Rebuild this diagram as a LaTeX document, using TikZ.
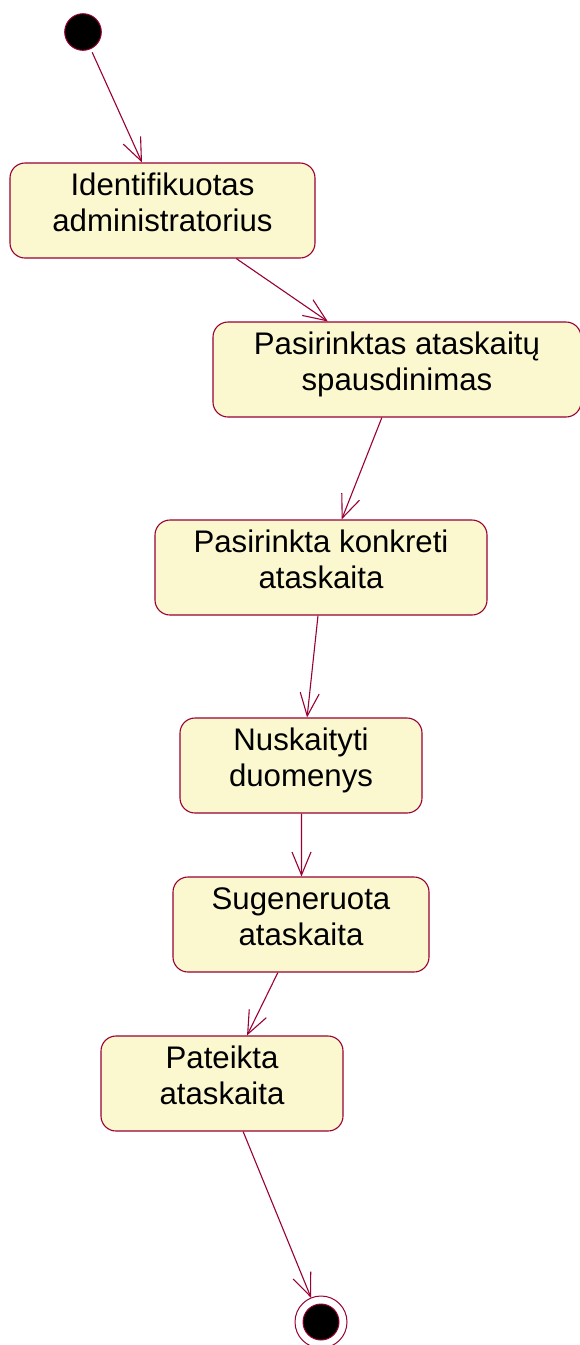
\documentclass[tikz,border=0pt]{standalone}
\usepackage{fontspec}
\setmainfont[Ligatures=NoCommon]{Liberation Sans}
\usetikzlibrary{arrows.meta,calc}

\definecolor{roseline}{RGB}{153,0,51}
\definecolor{rosefill}{RGB}{251,248,208}

% two-line state label with fixed first-line height and last-line depth
\newcommand{\statetext}[2]{\rule{0pt}{24pt}#1\\#2\rule[-19pt]{0pt}{19pt}}

\begin{document}
\begin{tikzpicture}[x=1pt,y=-1pt,
  state/.style={draw=roseline, fill=rosefill, line width=1.1pt,
    rounded corners=15pt, minimum height=95pt, inner sep=0pt,
    align=center, font=\fontsize{31.2}{36}\selectfont},
  trans/.style={draw=roseline, line width=1.1pt,
    -{Straight Barb[length=23pt,width=19pt]}},
  initial/.style={circle, fill=black, draw=roseline, line width=1pt,
    minimum size=36.6pt, inner sep=0pt, outer sep=0pt},
  finalring/.style={circle, draw=roseline, line width=1pt, fill=white,
    minimum size=52pt, inner sep=0pt, outer sep=0pt},
  finaldot/.style={circle, fill=black, draw=roseline, line width=1pt,
    minimum size=36pt, inner sep=0pt}
]
\useasboundingbox (0,0) rectangle (580,1345);

% start and end points
\node[initial] (start) at (83,32) {};
\node[finalring] (final) at (321,1322) {};
\node[finaldot] (finaldot) at (final.center) {};

% states
\node[state, minimum width=305pt] (b1) at (162.5,210.5)
  {\statetext{Identifikuotas}{administratorius}};
\node[state, minimum width=368pt] (b2) at (397,369.5)
  {\statetext{Pasirinktas ataskaitų}{spausdinimas}};
\node[state, minimum width=332pt] (b3) at (321,567.5)
  {\statetext{Pasirinkta konkreti}{ataskaita}};
\node[state, minimum width=242pt] (b4) at (301,765.5)
  {\statetext{Nuskaityti}{duomenys}};
\node[state, minimum width=256pt] (b5) at (301,924.5)
  {\statetext{Sugeneruota}{ataskaita}};
\node[state, minimum width=242pt] (b6) at (222,1083.5)
  {\statetext{Pateikta}{ataskaita}};

% transitions
\draw[trans, shorten <=4pt] (start) -- ($(b1.north west)!0.433!(b1.north east)$);
\draw[trans] ($(b1.south west)!0.741!(b1.south east)$) -- ($(b2.north west)!0.3125!(b2.north east)$);
\draw[trans] ($(b2.south west)!0.459!(b2.south east)$) -- ($(b3.north west)!0.562!(b3.north east)$);
\draw[trans] ($(b3.south west)!0.491!(b3.south east)$) -- ($(b4.north west)!0.525!(b4.north east)$);
\draw[trans] ($(b4.south west)!0.502!(b4.south east)$) -- ($(b5.north west)!0.502!(b5.north east)$);
\draw[trans] ($(b5.south west)!0.41!(b5.south east)$) -- ($(b6.north west)!0.603!(b6.north east)$);
\draw[trans] ($(b6.south west)!0.587!(b6.south east)$) -- (final);
\end{tikzpicture}
\end{document}
